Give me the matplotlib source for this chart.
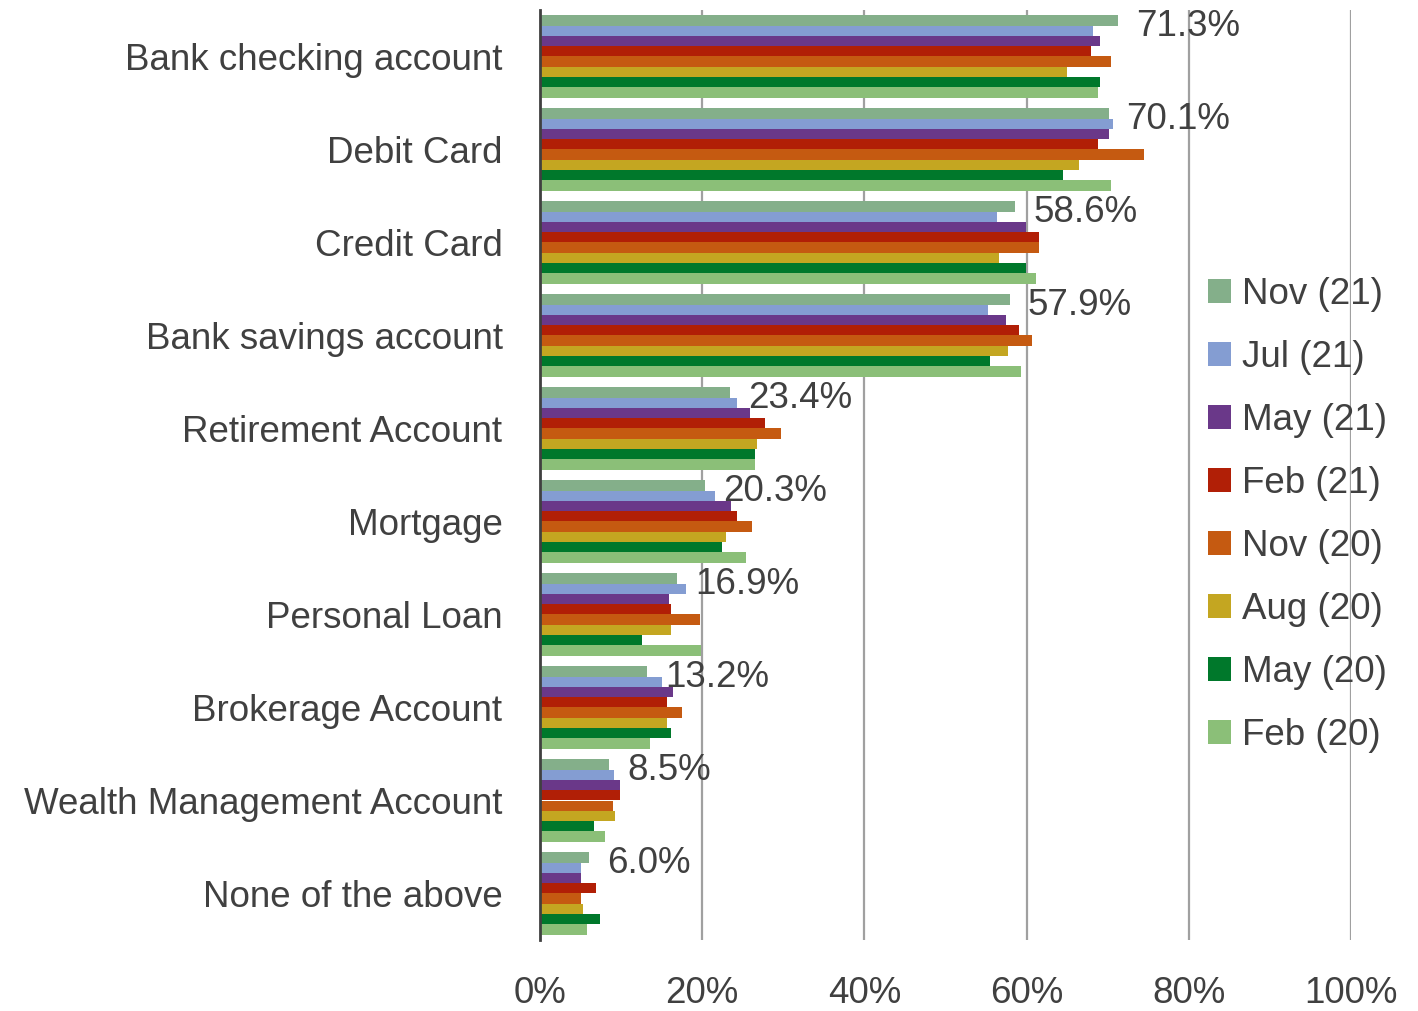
import numpy as np
import matplotlib.pyplot as plt

# account types, top to bottom
categories = [
    "Bank checking account", "Debit Card", "Credit Card", "Bank savings account",
    "Retirement Account", "Mortgage", "Personal Loan", "Brokerage Account",
    "Wealth Management Account", "None of the above",
]

# survey waves, newest first (drawn top to bottom inside each group)
waves = ["Nov (21)", "Jul (21)", "May (21)", "Feb (21)",
         "Nov (20)", "Aug (20)", "May (20)", "Feb (20)"]

nov21 = [71.3, 70.1, 58.6, 57.9, 23.4, 20.3, 16.9, 13.2, 8.5, 6.0]
jul21 = [68.2, 70.7, 56.3, 55.3, 24.3, 21.6, 18.0, 15.0, 9.1, 5.0]
may21 = [69.1, 70.1, 59.9, 57.4, 25.9, 23.5, 15.9, 16.4, 9.9, 5.0]
feb21 = [68.0, 68.8, 61.5, 59.1, 27.8, 24.3, 16.1, 15.6, 9.9, 6.9]
nov20 = [70.4, 74.5, 61.5, 60.7, 29.7, 26.2, 19.7, 17.5, 9.0, 5.0]
aug20 = [65.0, 66.4, 56.6, 57.7, 26.7, 22.9, 16.1, 15.6, 9.3, 5.3]
may20 = [69.1, 64.5, 59.9, 55.5, 26.5, 22.4, 12.6, 16.1, 6.6, 7.4]
feb20 = [68.8, 70.4, 61.2, 59.3, 26.5, 25.4, 19.9, 13.6, 8.0, 5.8]

series = [nov21, jul21, may21, feb21, nov20, aug20, may20, feb20]
colors = ["#84AF8A", "#849DD2", "#6A3889", "#B11F06",
          "#C55A11", "#C4A621", "#00782B", "#8BBF78"]

plt.rcParams["font.family"] = ["Liberation Sans", "DejaVu Sans"]
txt = "#404040"
fs = 26.5

fig = plt.figure(figsize=(14.18, 10.11), dpi=100)
ax = fig.add_axes([540 / 1418, 1 - 940 / 1011, 811 / 1418, 930 / 1011])

n = len(series)
h = 0.885 / n
y = np.arange(len(categories))
for i, (vals, c, lab) in enumerate(zip(series, colors, waves)):
    pos = y - 0.885 / 2 + h / 2 + i * h
    bars = ax.barh(pos, vals, height=h, color=c, label=lab, zorder=3)
    if i == 0:
        # value labels only on the most recent wave
        for b, v in zip(bars, vals):
            ax.annotate(f"{v:.1f}%", (v, b.get_y() + h / 2),
                        xytext=(13, -4), textcoords="offset points",
                        va="center", ha="left", fontsize=fs, color=txt, zorder=5)

ax.set_xlim(0, 100)
ax.set_ylim(len(categories) - 0.5, -0.5)
ax.set_yticks(y)
ax.set_yticklabels(categories)
ax.set_xticks(np.arange(0, 101, 20))
ax.set_xticklabels([f"{t}%" for t in range(0, 101, 20)])
ax.tick_params(axis="y", length=0, pad=27, labelsize=fs, labelcolor=txt)
ax.tick_params(axis="x", length=0, pad=26, labelsize=fs, labelcolor=txt)

ax.xaxis.grid(True, color="#A0A0A0", linewidth=1.6, zorder=0)
for s in ["top", "right", "bottom"]:
    ax.spines[s].set_visible(False)
ax.spines["left"].set_color("#404040")
ax.spines["left"].set_linewidth(2.0)
ax.spines["left"].set_zorder(4)

ax.legend(loc="center left", bbox_to_anchor=(1190 / 1418, 496 / 1011),
          bbox_transform=fig.transFigure, frameon=False, fontsize=fs,
          labelcolor=txt, handlelength=0.62, handleheight=0.62,
          handletextpad=0.3, labelspacing=0.76, borderpad=0)

fig.savefig("out.png", dpi=100)
